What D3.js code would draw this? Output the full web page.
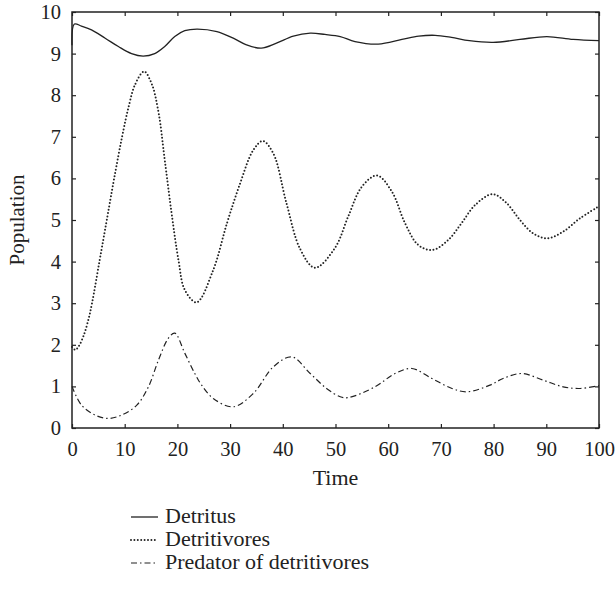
<!DOCTYPE html>
<html>
<head>
<meta charset="utf-8">
<script src="https://cdn.jsdelivr.net/npm/d3@7"></script>
<style>
  html, body { margin: 0; padding: 0; background: #fff; }
  svg { display: block; }
  text { font-family: "Liberation Serif", "DejaVu Serif", serif; fill: #222; }
</style>
</head>
<body>
<svg id="chart" width="615" height="592"></svg>
<script>
// ---- data ----
const xTicks = [0, 10, 20, 30, 40, 50, 60, 70, 80, 90, 100];
const yTicks = [0, 1, 2, 3, 4, 5, 6, 7, 8, 9, 10];
const xLabel = "Time";
const yLabel = "Population";
const seriesNames = ["Detritus", "Detritivores", "Predator of detritivores"];

// Detritus [time, value]
const detritus = [
  [0, 9.2], [0.45, 9.71], [1.8, 9.66], [3.7, 9.57], [6.3, 9.37], [8.8, 9.17],
  [11.3, 9.0], [13.5, 8.94], [15.7, 9.0], [17.6, 9.17], [19.5, 9.41],
  [21.4, 9.55], [23.7, 9.59], [27.5, 9.53], [30.6, 9.37], [33.1, 9.21],
  [35.9, 9.13], [38.8, 9.25], [42.0, 9.42], [45.2, 9.49], [48.0, 9.46],
  [50.9, 9.41], [53.7, 9.29], [58.1, 9.23], [62.6, 9.34], [65.8, 9.42],
  [68.9, 9.44], [72.0, 9.39], [75.4, 9.31], [79.9, 9.27], [85.0, 9.34],
  [90.1, 9.41], [95.1, 9.34], [100, 9.31]
];

// Detritivores [time, value]
const detritivores = [
  [0, 1.95], [0.6, 1.88], [1.2, 1.95], [2.15, 2.2], [3.1, 2.6], [3.8, 3.0],
  [5.2, 4.0], [6.6, 5.0], [8.0, 6.0], [9.5, 7.0], [10.8, 7.75],
  [11.95, 8.25], [13.66, 8.57], [15.1, 8.28], [16.4, 7.6], [17.6, 6.44],
  [18.9, 5.16], [20.2, 4.04], [21.4, 3.32], [23.65, 3.02], [26.8, 3.8],
  [29.4, 4.92], [31.9, 5.88], [34.4, 6.68], [36.2, 6.9], [38.2, 6.6],
  [40.7, 5.4], [43.3, 4.3], [46.1, 3.85], [49.9, 4.33], [52.4, 5.08],
  [55.0, 5.8], [57.9, 6.07], [60.7, 5.68], [63.2, 4.92], [65.7, 4.4],
  [68.4, 4.28], [71.4, 4.52], [73.9, 4.92], [76.5, 5.36], [79.8, 5.62],
  [82.5, 5.4], [85.0, 5.0], [87.5, 4.68], [90.2, 4.56], [93.2, 4.72],
  [96.4, 5.04], [100, 5.33]
];

// Predator of detritivores [time, value]
const predator = [
  [0, 1.0], [1.8, 0.55], [4.4, 0.31], [6.9, 0.23], [9.4, 0.31], [12.3, 0.55],
  [14.5, 0.99], [16.4, 1.63], [18.3, 2.16], [19.5, 2.28], [21.4, 1.8],
  [23.3, 1.31], [24.6, 1.03], [26.8, 0.71], [30.6, 0.51], [34.4, 0.83],
  [38.2, 1.47], [41.7, 1.71], [45.2, 1.31], [48.3, 0.95], [50.9, 0.75],
  [52.4, 0.73], [57.5, 0.99], [61.3, 1.31], [64.5, 1.43], [68.3, 1.19],
  [72.1, 0.95], [75.0, 0.87], [79.3, 1.03], [81.8, 1.19], [85.3, 1.31],
  [89.4, 1.15], [93.2, 0.99], [96.4, 0.95], [100, 1.02]
];

// ---- layout ----
const svg = d3.select("#chart");
const mLeft = 72, mRight = 599, mTop = 12, mBottom = 428;
const x = d3.scaleLinear().domain([0, 100]).range([mLeft, mRight]);
const y = d3.scaleLinear().domain([0, 10]).range([mBottom, mTop]);
const ink = "#222";
const tickLen = 4;

const line = d3.line()
  .x(d => x(d[0]))
  .y(d => y(d[1]))
  .curve(d3.curveCatmullRom.alpha(0.5));

const styles = [
  { data: detritus, width: 1.3, dash: null, cap: "butt" },
  { data: detritivores, width: 2.0, dash: "0,3.4", cap: "round" },
  { data: predator, width: 1.2, dash: "6,3,1.5,3", cap: "butt" }
];

const plot = svg.append("g");
styles.forEach(s => {
  plot.append("path")
    .datum(s.data)
    .attr("d", line)
    .attr("fill", "none")
    .attr("stroke", ink)
    .attr("stroke-width", s.width)
    .attr("stroke-linecap", s.cap)
    .attr("stroke-dasharray", s.dash);
});

// ---- axes (box with inward ticks) ----
const fs = 20.5;
const axBottom = svg.append("g").attr("transform", `translate(0,${mBottom})`)
  .call(d3.axisBottom(x).tickValues(xTicks).tickSize(-tickLen).tickPadding(13).tickFormat(d3.format("d")));
const axTop = svg.append("g").attr("transform", `translate(0,${mTop})`)
  .call(d3.axisTop(x).tickValues(xTicks).tickSize(-tickLen).tickFormat(""));
const axLeft = svg.append("g").attr("transform", `translate(${mLeft},0)`)
  .call(d3.axisLeft(y).tickValues(yTicks).tickSize(-tickLen).tickPadding(11).tickFormat(d3.format("d")));
const axRight = svg.append("g").attr("transform", `translate(${mRight},0)`)
  .call(d3.axisRight(y).tickValues(yTicks).tickSize(-tickLen).tickFormat(""));

[axBottom, axTop, axLeft, axRight].forEach(g => {
  g.select(".domain").remove();
  g.selectAll(".tick line").attr("stroke", ink).attr("stroke-width", 1.2);
  g.selectAll(".tick text").attr("font-size", fs)
    .style("font-family", '"Liberation Serif", "DejaVu Serif", serif').attr("fill", ink);
});

svg.append("rect")
  .attr("x", mLeft).attr("y", mTop)
  .attr("width", mRight - mLeft).attr("height", mBottom - mTop)
  .attr("fill", "none").attr("stroke", ink).attr("stroke-width", 1.5);

// axis labels
svg.append("text")
  .attr("x", (mLeft + mRight) / 2).attr("y", 485)
  .attr("text-anchor", "middle").attr("font-size", 22)
  .text(xLabel);
svg.append("text")
  .attr("transform", `translate(24,${(mTop + mBottom) / 2}) rotate(-90)`)
  .attr("text-anchor", "middle").attr("font-size", 21)
  .text(yLabel);

// ---- legend ----
const legend = svg.append("g");
seriesNames.forEach((name, i) => {
  const ly = 517 + i * 23;
  legend.append("line")
    .attr("x1", 131).attr("x2", 158)
    .attr("y1", ly).attr("y2", ly)
    .attr("stroke", ink)
    .attr("stroke-width", styles[i].width)
    .attr("stroke-linecap", styles[i].cap)
    .attr("stroke-dasharray", styles[i].dash);
  legend.append("text")
    .attr("x", 165).attr("y", ly + 6)
    .attr("font-size", 22)
    .text(name);
});
</script>
</body>
</html>
